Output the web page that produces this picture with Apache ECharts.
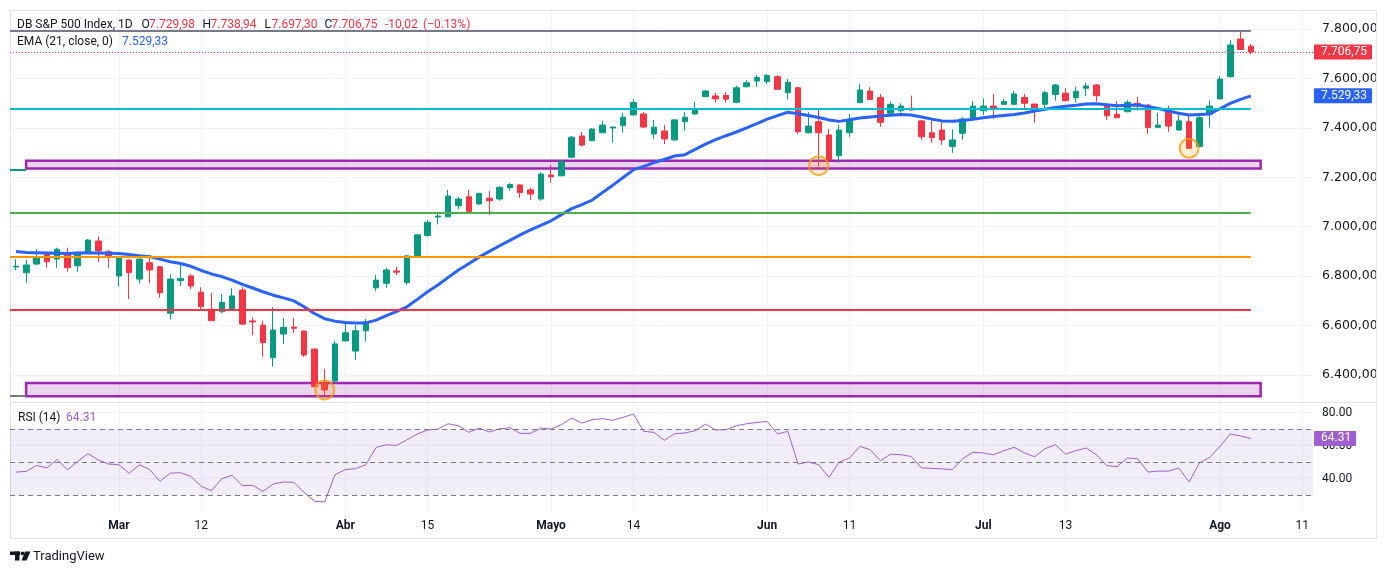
<!DOCTYPE html>
<html>
<head>
<meta charset="utf-8">
<script src="https://cdn.jsdelivr.net/npm/echarts@6/dist/echarts.min.js"></script>
<style>
  html, body { margin: 0; padding: 0; background: #fff; }
  #chart { width: 1388px; height: 575px; }
</style>
</head>
<body>
<div id="chart"></div>
<script>
// daily candles (index 0 = first visible bar)
var openP = [6837,6814,6849,6892,6869,6886,6842,6892,6942,6899,6801,6865,6788,6854,6838,6650,6782,6801,6735,6666,
  6656,6666,6744,6619,6602,6470,6566,6594,6578,6505,6369,6376,6538,6497,6579,6753,6771,6821,6774,6879,
  6964,7039,7040,7085,7121,7092,7115,7112,7158,7169,7149,7112,7209,7206,7281,7367,7348,7380,7399,7409,
  7452,7456,7375,7387,7351,7425,7456,7526,7529,7531,7503,7566,7589,7587,7607,7542,7562,7380,7425,7371,
  7287,7380,7502,7549,7523,7459,7469,7479,7428,7380,7391,7324,7378,7434,7469,7488,7495,7495,7523,7496,
  7495,7535,7540,7522,7560,7573,7492,7455,7465,7499,7492,7402,7465,7391,7425,7324,7455,7517,7607,7759,7729.98];
var highP = [6869,6865,6910,6899,6915,6915,6899,6950,6960,6906,6882,6868,6879,6886,6841,6809,6845,6809,6755,6733,
  6728,6751,6755,6634,6620,6674,6630,6630,6580,6507,6425,6538,6609,6602,6627,6805,6834,6838,6886,6970,
  7027,7054,7149,7121,7149,7137,7144,7165,7176,7171,7158,7220,7250,7270,7367,7384,7398,7428,7405,7461,
  7516,7465,7432,7411,7436,7465,7506,7551,7540,7544,7570,7593,7613,7618,7613,7597,7566,7463,7479,7395,
  7411,7456,7577,7564,7537,7506,7499,7530,7432,7428,7425,7394,7442,7508,7519,7537,7515,7549,7537,7498,
  7549,7577,7560,7566,7582,7577,7496,7508,7512,7526,7496,7461,7488,7452,7456,7452,7510,7610,7755,7789,7738.94];
var lowP = [6825,6773,6845,6834,6834,6818,6818,6890,6858,6834,6760,6708,6771,6771,6713,6625,6760,6747,6666,6619,
  6650,6663,6602,6562,6474,6434,6526,6571,6474,6351,6319,6369,6537,6461,6535,6740,6753,6805,6764,6877,
  6960,7010,7039,7072,7054,7090,7047,7105,7146,7117,7108,7105,7178,7204,7277,7324,7346,7379,7340,7380,
  7450,7400,7355,7334,7349,7388,7452,7524,7502,7502,7499,7564,7566,7577,7554,7515,7374,7378,7243,7268,
  7259,7364,7499,7513,7404,7457,7461,7469,7351,7340,7331,7299,7353,7432,7452,7435,7494,7494,7479,7421,
  7479,7510,7506,7502,7529,7506,7432,7440,7463,7469,7375,7398,7384,7389,7315,7322,7401,7516,7603,7715,7697.30];
var closeP = [6840,6845,6876,6858,6909,6834,6895,6946,6902,6875,6879,6814,6869,6825,6733,6788,6791,6760,6677,6620,
  6694,6720,6606,6615,6531,6582,6593,6589,6481,6353,6340,6526,6571,6579,6616,6784,6825,6816,6882,6967,
  7018,7043,7124,7112,7061,7135,7105,7159,7171,7138,7132,7213,7202,7263,7362,7330,7395,7411,7403,7443,
  7502,7403,7402,7355,7432,7443,7473,7549,7517,7516,7562,7582,7603,7611,7556,7584,7384,7407,7380,7270,
  7391,7432,7553,7515,7422,7495,7488,7472,7364,7360,7351,7351,7436,7488,7488,7475,7506,7537,7499,7475,
  7542,7573,7510,7548,7569,7530,7449,7441,7503,7495,7401,7411,7407,7428,7317,7441,7488,7597,7735,7717,7706.75];

// EMA(21) as drawn
var emaVals = [6900,6896,6895,6894,6893,6892,6894,6895,6894,6893,6892,6888,6883,6879,6869,6858,6851,6840,6823,6809,
  6798,6784,6767,6752,6737,6723,6712,6700,6676,6649,6628,6618,6613,6611,6611,6622,6640,6658,6676,6706,
  6737,6764,6795,6825,6850,6877,6900,6923,6945,6967,6987,7005,7024,7049,7073,7089,7108,7138,7168,7199,
  7230,7244,7259,7272,7286,7291,7313,7334,7352,7368,7383,7400,7417,7435,7449,7463,7457,7450,7442,7432,
  7426,7433,7440,7444,7448,7451,7454,7452,7444,7435,7428,7427,7430,7435,7441,7446,7450,7454,7460,7468,
  7475,7482,7487,7491,7496,7497,7493,7489,7491,7492,7485,7478,7468,7459,7452,7454,7456,7477,7499,7515,7529.33];

// RSI(14) as drawn
var rsiVals = [43.9,44.3,48.0,46.4,51.6,45.2,50.4,55.1,51.2,48.8,48.4,43.1,48.4,45.4,38.3,43.3,43.5,41.3,35.3,32.6,
  39.9,41.9,35.7,35.9,32.2,36.7,37.9,37.7,31.6,26.2,25.8,42.3,45.4,46.0,48.4,58.9,60.5,60.1,63.5,67.0,
  69.4,70.0,73.2,72.0,68.0,70.6,68.2,70.2,70.8,67.4,67.4,70.6,70.0,72.6,76.7,73.6,75.7,76.3,75.3,77.1,
  79.1,68.6,68.0,63.1,67.2,67.6,69.0,73.0,69.4,69.6,72.0,73.2,74.0,74.6,67.0,68.6,48.8,50.0,48.4,40.7,
  50.0,52.4,59.5,57.5,50.8,54.8,54.4,53.4,46.4,46.2,45.8,45.4,52.0,55.9,55.5,54.4,56.9,58.9,55.5,53.2,
  58.1,60.5,54.8,56.9,58.5,54.4,47.8,47.2,52.4,52.0,43.9,44.5,44.5,46.4,37.9,49.4,52.8,59.5,67.0,65.8,64.31];

// axis ticks
var xTickIdx = [10, 18, 32, 40, 52, 60, 73, 81, 94, 102, 117, 125];
var xTickText = ['Mar', '12', 'Abr', '15', 'Mayo', '14', 'Jun', '11', 'Jul', '13', 'Ago', '11'];
var xTickMonth = [true, false, true, false, true, false, true, false, true, false, true, false];
var priceTicks = [6400, 6600, 6800, 7000, 7200, 7400, 7600, 7800];
var rsiTicks = [40, 60, 80];
var rsiGuides = [30, 50, 70];

// drawings
var levelPrices = [7792, 7477, 7056, 6878, 6665];
var levelColors = ['#787b86', '#00bcd4', '#4caf50', '#ff9800', '#f23645'];
var zoneTop = [7267, 6368];
var zoneBottom = [7235, 6314];
var stubPrices = [7230, 6316];
var stubColors = ['#089981', '#787b86'];
var circleIdx = [30, 78, 114];
var circlePrice = [6340, 7247, 7317];

var lastIdx = closeP.length - 1;
var xMin = -0.58, xMax = 126.04;
var upC = '#089981', downC = '#f23645', emaC = '#2962ff', rsiC = '#a05fd0';
var txt = '#131722', gridC = '#f0f3fa';
var FONT = 'Roboto, sans-serif';

function fmtPrice(v) {
  var p = v.toFixed(2).split('.');
  return p[0].replace(/\B(?=(\d{3})+(?!\d))/g, '.') + ',' + p[1];
}

// value tag sitting on the price scale
function tag(text, bg) {
  return {
    show: true, position: 'end', distance: 1, formatter: text,
    backgroundColor: bg, color: '#fff', padding: [2, 5, 1, 7], fontSize: 12, fontFamily: FONT, borderRadius: 1
  };
}
var hidden = { color: 'rgba(0,0,0,0)', width: 0 };

var candles = openP.map(function (o, i) { return [i, o, closeP[i], lowP[i], highP[i]]; });
var emaData = emaVals.map(function (v, i) { return [i, v]; });
var rsiData = rsiVals.map(function (v, i) { return [i, v]; });

var levelLines = levelPrices.map(function (p, k) {
  return [{ coord: [xMin, p], lineStyle: { color: levelColors[k], width: 2, type: 'solid' } }, { coord: [lastIdx, p] }];
});
stubPrices.forEach(function (p, k) {
  levelLines.push([{ coord: [xMin, p], lineStyle: { color: stubColors[k], width: 2, type: 'solid' } }, { coord: [0.99, p] }]);
});
levelLines.push({ yAxis: emaVals[lastIdx], lineStyle: hidden, label: tag(fmtPrice(emaVals[lastIdx]), emaC) });

var zones = zoneTop.map(function (t, k) {
  return [{ coord: [0.99, t] }, { coord: [120.95, zoneBottom[k]] }];
});

var option = {
  animation: false,
  backgroundColor: '#fff',
  textStyle: { fontFamily: FONT },
  grid: [
    { left: 10, right: 75, top: 10, height: 392 },
    { left: 10, right: 75, top: 402, height: 110 }
  ],
  xAxis: [0, 1].map(function (g) {
    return {
      type: 'value', gridIndex: g, min: xMin, max: xMax,
      axisLine: { show: false },
      axisTick: { show: false, customValues: xTickIdx },
      splitLine: { show: true, lineStyle: { color: gridC, width: 1 } },
      axisLabel: {
        show: g === 1, customValues: xTickIdx, margin: 8, color: txt, fontSize: 12, fontFamily: FONT,
        formatter: function (v) {
          var k = xTickIdx.indexOf(Math.round(v));
          if (k < 0) return '';
          return xTickMonth[k] ? '{m|' + xTickText[k] + '}' : xTickText[k];
        },
        rich: { m: { fontWeight: 'bold', fontSize: 12, color: txt, fontFamily: FONT } }
      }
    };
  }),
  yAxis: [
    {
      type: 'value', gridIndex: 0, position: 'right', min: 6291, max: 7876.5,
      axisLine: { show: false },
      axisTick: { show: false, customValues: priceTicks },
      splitLine: { show: true, lineStyle: { color: gridC } },
      axisLabel: {
        customValues: priceTicks, margin: 9, color: txt, fontSize: 12.5, fontFamily: 'DejaVu Sans, sans-serif',
        formatter: function (v) { return fmtPrice(v); }
      }
    },
    {
      type: 'value', gridIndex: 1, position: 'right', min: 19.7, max: 86.4,
      axisLine: { show: false },
      axisTick: { show: false, customValues: rsiTicks },
      splitLine: { show: true, lineStyle: { color: gridC } },
      axisLabel: {
        customValues: rsiTicks, margin: 9, color: txt, fontSize: 12, fontFamily: FONT,
        formatter: function (v) { return v.toFixed(2); }
      }
    }
  ],
  series: [
    {
      type: 'candlestick', xAxisIndex: 0, yAxisIndex: 0, barWidth: 6,
      encode: { x: 0, y: [1, 2, 3, 4] },
      data: candles,
      itemStyle: { color: upC, color0: downC, borderColor: upC, borderColor0: downC, borderWidth: 1 },
      markLine: {
        silent: true, symbol: ['none', 'none'],
        data: [{
          yAxis: closeP[lastIdx],
          lineStyle: { color: downC, type: [1, 2], width: 1 },
          label: tag(fmtPrice(closeP[lastIdx]), downC)
        }]
      }
    },
    {
      type: 'line', xAxisIndex: 0, yAxisIndex: 0, data: emaData, showSymbol: false,
      lineStyle: { color: emaC, width: 3 }, itemStyle: { color: emaC },
      markArea: {
        silent: true,
        itemStyle: { color: 'rgba(156,39,176,0.2)', borderColor: '#9c27b0', borderWidth: 2.5 },
        data: zones
      },
      markLine: {
        silent: true, symbol: ['none', 'none'],
        label: { show: false },
        data: levelLines
      }
    },
    {
      type: 'scatter', xAxisIndex: 0, yAxisIndex: 0, symbol: 'circle', symbolSize: 19,
      data: circleIdx.map(function (x, k) { return [x, circlePrice[k]]; }),
      itemStyle: { color: 'rgba(255,152,0,0.2)', borderColor: '#ff9800', borderWidth: 2 }
    },
    {
      type: 'line', xAxisIndex: 1, yAxisIndex: 1, data: rsiData, showSymbol: false,
      lineStyle: { color: rsiC, width: 1 }, itemStyle: { color: rsiC },
      markArea: {
        silent: true,
        itemStyle: { color: 'rgba(126,87,194,0.1)' },
        data: [[{ yAxis: rsiGuides[0] }, { yAxis: rsiGuides[2] }]]
      },
      markLine: {
        silent: true, symbol: ['none', 'none'],
        data: rsiGuides.map(function (v) {
          return { yAxis: v, lineStyle: { color: '#787b86', type: [5, 4], width: 1 }, label: { show: false } };
        }).concat([{
          yAxis: rsiVals[lastIdx], lineStyle: hidden, label: tag(rsiVals[lastIdx].toFixed(2), rsiC)
        }])
      }
    }
  ]
};

// legend rows and frame
var legend = [
  ['DB S&P 500 Index, 1D', 17, 25, txt], ['O', 141.5, 25, txt], [fmtPrice(openP[lastIdx]), 149, 25, downC],
  ['H', 202.5, 25, txt], [fmtPrice(highP[lastIdx]), 210.5, 25, downC],
  ['L', 264.5, 25, txt], [fmtPrice(lowP[lastIdx]), 271.5, 25, downC],
  ['C', 324.5, 25, txt], [fmtPrice(closeP[lastIdx]), 331.5, 25, downC],
  ['-10,02', 385, 25, downC], ['(\u22120.13%)', 423, 25, downC],
  ['EMA (21, close, 0)', 17, 42, txt], [fmtPrice(emaVals[lastIdx]), 122, 42, emaC],
  ['RSI (14)', 18, 418, txt], [rsiVals[lastIdx].toFixed(2), 66, 418, rsiC]
];
var graphics = legend.map(function (r) {
  return { type: 'text', x: r[1], y: r[2], z: 10,
    style: { text: r[0], fill: r[3], font: '12px ' + FONT, textVerticalAlign: 'middle', verticalAlign: 'middle' } };
});
graphics.push(
  { type: 'rect', shape: { x: 10.5, y: 10.5, width: 1366, height: 528 }, style: { fill: 'none', stroke: '#e0e3eb', lineWidth: 1 }, z: 1 },
  { type: 'line', shape: { x1: 10, y1: 402.5, x2: 1377, y2: 402.5 }, style: { stroke: '#e0e3eb', lineWidth: 1 }, z: 1 },
  // TradingView mark
  { type: 'rect', shape: { x: 10, y: 551.5, width: 10, height: 3.5 }, style: { fill: txt } },
  { type: 'rect', shape: { x: 15, y: 551.5, width: 4.5, height: 9 }, style: { fill: txt } },
  { type: 'circle', shape: { cx: 22.5, cy: 553.3, r: 1.9 }, style: { fill: txt } },
  { type: 'polygon', shape: { points: [[25, 551.5], [30.5, 551.5], [26.5, 560.5], [21.5, 560.5]] }, style: { fill: txt } },
  { type: 'text', x: 33, y: 556.5, style: { text: 'TradingView', fill: txt, font: '13px ' + FONT, verticalAlign: 'middle', textVerticalAlign: 'middle' } }
);
option.graphic = graphics;

var chart = echarts.init(document.getElementById('chart'));
chart.setOption(option);
</script>
</body>
</html>
